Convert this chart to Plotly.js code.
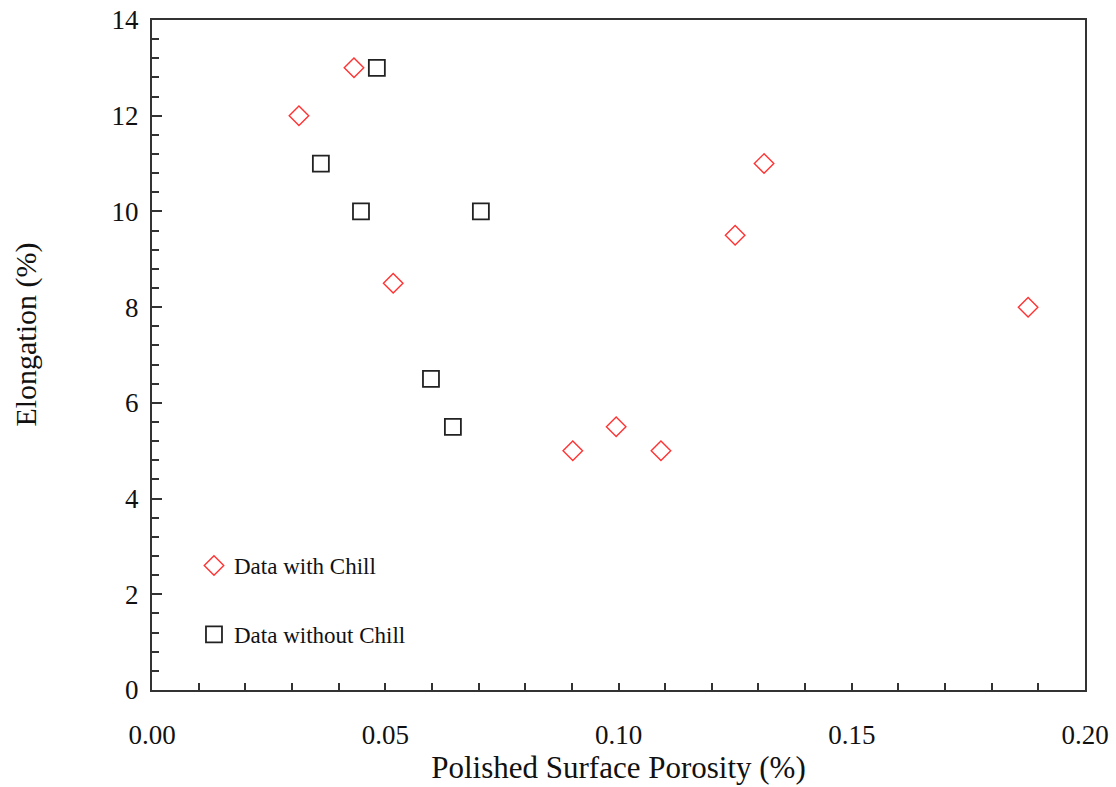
<!DOCTYPE html>
<html>
<head>
<meta charset="utf-8">
<script src="https://cdn.plot.ly/plotly-3.0.1.min.js"></script>
<style>html,body{margin:0;padding:0;background:#fff;}#chart{width:1116px;height:787px;}</style>
</head>
<body>
<div id="chart"></div>
<script>
// Data with Chill
const chillPorosity = [0.0315, 0.0433, 0.0517, 0.0902, 0.0995, 0.1091, 0.1250, 0.1312, 0.1878];
const chillElongation = [12, 13, 8.5, 5, 5.5, 5, 9.5, 11, 8];
// Data without Chill
const noChillPorosity = [0.0482, 0.0362, 0.0448, 0.0705, 0.0598, 0.0645];
const noChillElongation = [13, 11, 10, 10, 6.5, 5.5];

const seriesNames = ["Data with Chill", "Data without Chill"];
const xTickVals = [0, 0.05, 0.10, 0.15, 0.20];
const xTickText = ["0.00", "0.05", "0.10", "0.15", "0.20"];
const yTickVals = [0, 2, 4, 6, 8, 10, 12, 14];

const font = "Liberation Serif, Times New Roman, serif";

const traces = [
  {
    x: chillPorosity, y: chillElongation, type: "scatter", mode: "markers",
    name: seriesNames[0], legendgroup: "a",
    marker: {symbol: "diamond-open", size: 15, color: "#ff3333", line: {width: 1.4, color: "#ff3333"}},
    cliponaxis: false
  },
  {
    x: noChillPorosity, y: noChillElongation, type: "scatter", mode: "markers",
    name: seriesNames[1], legendgroup: "b",
    marker: {symbol: "square-open", size: 16, color: "#222", line: {width: 1.8, color: "#222"}},
    cliponaxis: false
  }
];

const axisCommon = {
  showgrid: false, zeroline: false, showline: true, mirror: true,
  linecolor: "#333", linewidth: 2,
  ticks: "inside", tickwidth: 2, tickcolor: "#333",
  tickfont: {family: font, size: 27, color: "#111"}
};

const layout = {
  width: 1116, height: 787,
  margin: {l: 152, r: 31, t: 20, b: 97},
  paper_bgcolor: "#fff", plot_bgcolor: "#fff",
  font: {family: font, color: "#111"},
  showlegend: true,
  legend: {
    x: 0.045, y: 0.218, xanchor: "left", yanchor: "top",
    bgcolor: "rgba(0,0,0,0)", borderwidth: 0,
    font: {family: font, size: 23, color: "#111"},
    tracegroupgap: 36
  },
  xaxis: Object.assign({}, axisCommon, {
    range: [0, 0.2], tickvals: xTickVals, ticktext: xTickText, ticklen: 7,
    minor: {dtick: 0.01, ticks: "inside", ticklen: 7, tickwidth: 2, tickcolor: "#333"},
    ticklabelstandoff: 20,
    title: {text: "Polished Surface Porosity (%)", font: {family: font, size: 31, color: "#111"}, standoff: 3}
  }),
  yaxis: Object.assign({}, axisCommon, {
    range: [0, 14], tickvals: yTickVals, ticklen: 10,
    minor: {dtick: 0.4, ticks: "inside", ticklen: 7, tickwidth: 2, tickcolor: "#333"},
    ticklabelstandoff: 6
  }),
  annotations: [{
    text: "Elongation (%)", xref: "paper", yref: "paper",
    x: -0.155, y: 0.531, textangle: -90, showarrow: false,
    font: {family: font, size: 30, color: "#111"}
  }]
};

Plotly.newPlot("chart", traces, layout, {displayModeBar: false, staticPlot: true});
</script>
</body>
</html>
